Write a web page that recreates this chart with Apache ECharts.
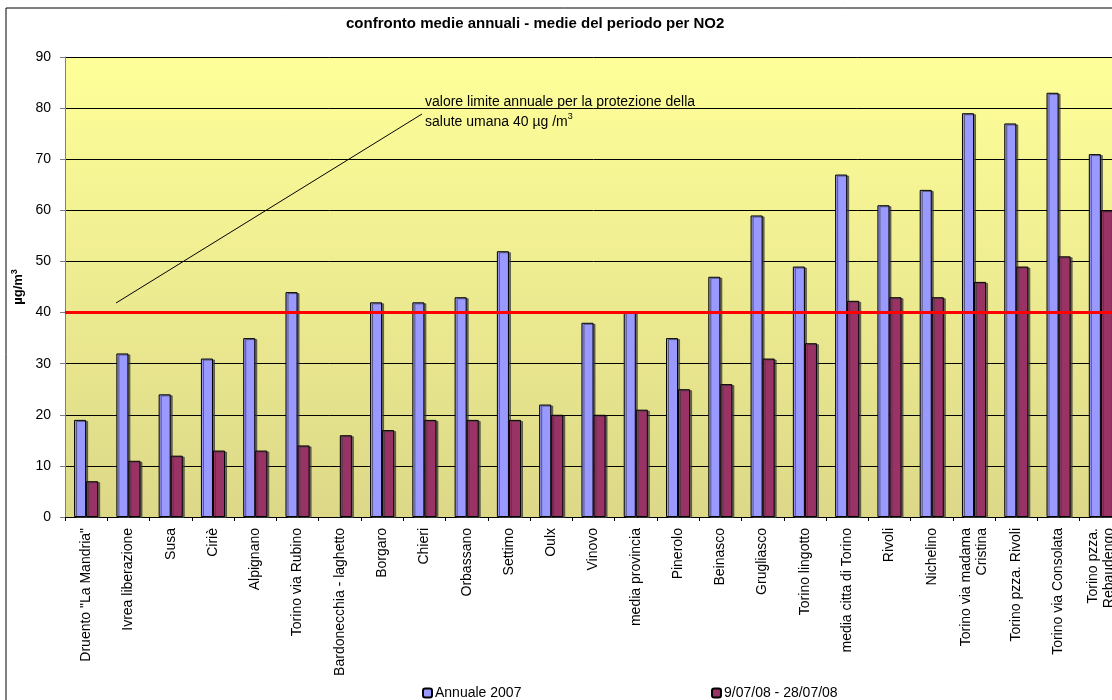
<!DOCTYPE html>
<html>
<head>
<meta charset="utf-8">
<script src="https://cdn.jsdelivr.net/npm/echarts@6/dist/echarts.min.js"></script>
<style>
  html, body { margin: 0; padding: 0; overflow: hidden; background: #fff; }
  #main { width: 1122px; height: 700px; }
</style>
</head>
<body>
<div id="main"></div>
<script>
// stazioni
const stazioni = ['Druento "La Mandria"', 'Ivrea liberazione', 'Susa', 'Ciriè', 'Alpignano',
  'Torino via Rubino', 'Bardonecchia - laghetto', 'Borgaro', 'Chieri', 'Orbassano', 'Settimo',
  'Oulx', 'Vinovo', 'media provincia', 'Pinerolo', 'Beinasco', 'Grugliasco', 'Torino lingotto',
  'media citta di Torino', 'Rivoli', 'Nichelino', 'Torino via madama\nCristina',
  'Torino pzza. Rivoli', 'Torino via Consolata', 'Torino pzza.\nRebaudengo']
// medie annuali 2007
const annuale2007 = [19, 32, 24, 31, 35, 44, null, 42, 42, 43, 52, 22, 38, 40.3, 35, 47, 59, 49,
  67, 61, 64, 79, 77, 83, 71]
// medie del periodo 9/07/08 - 28/07/08
const periodo = [7, 11, 12, 13, 13, 14, 16, 17, 19, 19, 19, 20, 20, 21, 25, 26, 31, 34,
  42.3, 43, 43, 46, 49, 51, 60]
const limite = 40
const yTicks = { min: 0, max: 90, interval: 10 }

const myChart = echarts.init(document.getElementById('main'))
const barStyle = (c) => ({
  color: c,
  borderColor: '#000',
  borderWidth: 1,
  shadowColor: 'rgba(60,60,60,0.7)',
  shadowOffsetX: 2,
  shadowOffsetY: 1,
  shadowBlur: 0
})
const option = {
  animation: false,
  textStyle: { fontFamily: 'Liberation Sans, Arial, sans-serif' },
  title: {
    text: 'confronto medie annuali - medie del periodo per NO2',
    left: 341,
    top: 11,
    textStyle: { fontSize: 15, fontWeight: 'bold', color: '#000' }
  },
  legend: [
    {
      data: ['Annuale 2007'],
      left: 417,
      top: 681,
      itemWidth: 9,
      itemHeight: 9,
      textStyle: { fontSize: 14, color: '#000', padding: [0, 0, 0, -2] }
    },
    {
      data: ['9/07/08 - 28/07/08'],
      left: 706,
      top: 681,
      itemWidth: 9,
      itemHeight: 9,
      textStyle: { fontSize: 14, color: '#000', padding: [0, 0, 0, -2] }
    }
  ],
  grid: {
    left: 65,
    right: 0,
    top: 57,
    bottom: 183,
    show: true,
    borderWidth: 0,
    backgroundColor: new echarts.graphic.LinearGradient(0, 0, 0, 1, [
      { offset: 0, color: '#ffff99' },
      { offset: 1, color: '#dcd888' }
    ])
  },
  xAxis: {
    type: 'category',
    data: stazioni,
    axisLine: { lineStyle: { color: '#000' } },
    axisTick: { show: true, length: 4, lineStyle: { color: '#000' } },
    axisLabel: {
      rotate: 90,
      interval: 0,
      margin: 11,
      fontSize: 14,
      color: '#000',
      lineHeight: 16
    }
  },
  yAxis: {
    type: 'value',
    min: yTicks.min,
    max: yTicks.max,
    interval: yTicks.interval,
    name: '{a|µg/m}{b|3}',
    nameLocation: 'middle',
    nameRotate: 90,
    nameGap: 36,
    nameTextStyle: {
      rich: {
        a: { fontSize: 13, fontWeight: 'bold', color: '#000' },
        b: { fontSize: 9, fontWeight: 'bold', color: '#000', verticalAlign: 'top', padding: [0, 0, 7, 0] }
      }
    },
    axisLine: { show: true, lineStyle: { color: '#808080' } },
    axisTick: { show: true, length: 5, lineStyle: { color: '#808080' } },
    axisLabel: { fontSize: 14, color: '#000', margin: 14 },
    splitLine: { lineStyle: { color: '#000', width: 1 } }
  },
  series: [
    {
      name: 'Annuale 2007',
      type: 'bar',
      data: annuale2007,
      barGap: '0%',
      barCategoryGap: '43%',
      itemStyle: barStyle('#9999ff'),
      markLine: {
        silent: true,
        symbol: 'none',
        label: { show: false },
        lineStyle: { color: '#ff0000', width: 3, type: 'solid' },
        data: [{ yAxis: limite }]
      }
    },
    {
      name: '9/07/08 - 28/07/08',
      type: 'bar',
      data: periodo,
      itemStyle: barStyle('#993366')
    }
  ],
  graphic: [
    {
      type: 'rect',
      shape: { x: 6, y: 8, width: 1200, height: 800 },
      style: { fill: 'none', stroke: '#000', lineWidth: 1 },
      silent: true
    },
    {
      type: 'line',
      shape: { x1: 116, y1: 303, x2: 422, y2: 114 },
      style: { stroke: '#000', lineWidth: 1 },
      z: 10
    },
    {
      type: 'text',
      left: 425,
      top: 92,
      z: 10,
      style: {
        text: 'valore limite annuale per la protezione della\n{n|salute umana 40 µg /m}{s|3}',
        fill: '#000',
        font: '14px Liberation Sans, Arial, sans-serif',
        lineHeight: 20,
        rich: {
          n: { fontSize: 14, fill: '#000' },
          s: { fontSize: 9, fill: '#000', verticalAlign: 'top', padding: [0, 0, 7, 0] }
        }
      }
    }
  ]
}
myChart.setOption(option)
</script>
</body>
</html>
